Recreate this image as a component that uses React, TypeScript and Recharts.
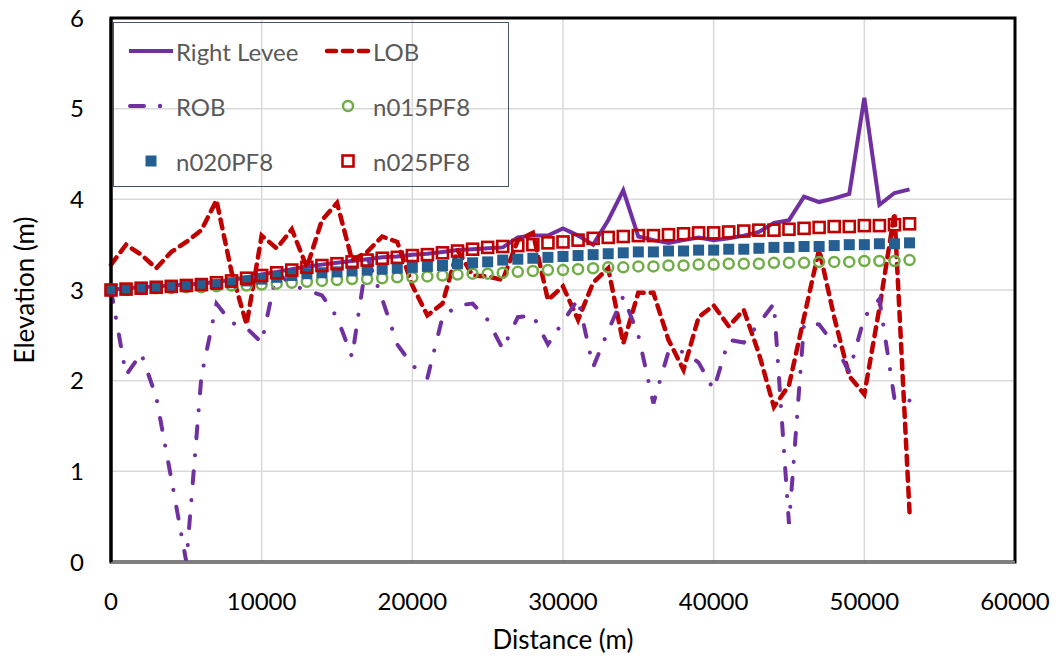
import React from "react";
import { LineChart, Line, XAxis, YAxis, CartesianGrid, ReferenceArea } from "recharts";

const distances = [
  0, 1000, 2000, 3000, 4000, 5000, 6000, 7000, 8000, 9000,
  10000, 11000, 12000, 13000, 14000, 15000, 16000, 17000, 18000, 19000,
  20000, 21000, 22000, 23000, 24000, 25000, 26000, 27000, 28000, 29000,
  30000, 31000, 32000, 33000, 34000, 35000, 36000, 37000, 38000, 39000,
  40000, 41000, 42000, 43000, 44000, 45000, 46000, 47000, 48000, 49000,
  50000, 51000, 52000, 53000,
];

const rightLevee = [
  3.0, 3.02, 3.03, 3.04, 3.05, 3.06, 3.07, 3.09, 3.11, 3.14,
  3.17, 3.2, 3.23, 3.26, 3.28, 3.3, 3.32, 3.34, 3.36, 3.37,
  3.39, 3.4, 3.42, 3.44, 3.45, 3.46, 3.47, 3.58, 3.6, 3.6,
  3.68, 3.6, 3.5, 3.77, 4.1, 3.59, 3.55, 3.52, 3.55, 3.58,
  3.55, 3.57, 3.6, 3.64, 3.74, 3.77, 4.03, 3.97, 4.01, 4.06,
  5.12, 3.94, 4.07, 4.11,
];

const lob = [
  3.28, 3.5, 3.39, 3.24, 3.42, 3.53, 3.66, 3.99, 3.2, 2.62,
  3.6, 3.46, 3.67, 3.25, 3.77, 3.96, 3.33, 3.42, 3.59, 3.53,
  3.05, 2.72, 2.85, 3.44, 3.16, 3.15, 3.11, 3.55, 3.63, 2.89,
  3.04, 2.67, 3.08, 3.24, 2.41, 2.97, 2.97, 2.45, 2.12, 2.7,
  2.83, 2.6, 2.78, 2.3, 1.71, 1.95, 2.7, 3.45, 2.7, 2.05,
  1.85, 2.8, 3.85, 0.55,
];

const rob = [
  3.0, 2.06, 2.3, 1.82, 0.92, 0.0, 2.05, 2.85, 2.64, 2.58,
  2.42, 3.2, 3.05, 3.0, 2.94, 2.7, 2.26, 3.37, 2.9, 2.4,
  2.17, 2.03, 2.7, 2.83, 2.85, 2.67, 2.35, 2.7, 2.72, 2.4,
  2.65, 2.9, 2.15, 2.55, 2.93, 2.5, 1.75, 2.32, 2.32, 2.2,
  1.9, 2.45, 2.42, 2.63, 2.85, 0.42, 2.63, 2.62, 2.4, 2.1,
  2.7, 2.9, 1.8, 1.78,
];

const n015PF8 = [
  3.0, 3.0, 3.01, 3.02, 3.02, 3.03, 3.03, 3.04, 3.05, 3.05,
  3.06, 3.07, 3.08, 3.09, 3.1, 3.11, 3.12, 3.12, 3.13, 3.14,
  3.14, 3.15, 3.16, 3.17, 3.18, 3.18, 3.19, 3.2, 3.21, 3.22,
  3.22, 3.23, 3.24, 3.25, 3.25, 3.26, 3.26, 3.27, 3.27, 3.28,
  3.28, 3.29, 3.29, 3.29, 3.3, 3.3, 3.3, 3.31, 3.31, 3.31,
  3.32, 3.32, 3.32, 3.33,
];

const n020PF8 = [
  3.0, 3.01, 3.02, 3.03, 3.04, 3.04, 3.05, 3.06, 3.08, 3.1,
  3.12, 3.14, 3.16, 3.18, 3.19, 3.2, 3.21, 3.22, 3.23, 3.24,
  3.25, 3.26, 3.27, 3.29, 3.3, 3.31, 3.33, 3.34, 3.35, 3.36,
  3.37, 3.38, 3.39, 3.4, 3.41, 3.42, 3.42, 3.43, 3.43, 3.44,
  3.44, 3.45, 3.45, 3.46, 3.47, 3.47, 3.48, 3.48, 3.49, 3.5,
  3.5, 3.51, 3.51, 3.52,
];

const n025PF8 = [
  3.0, 3.01, 3.02, 3.03, 3.04, 3.05, 3.06, 3.08, 3.1, 3.13,
  3.16, 3.19, 3.22, 3.25, 3.27, 3.29, 3.31, 3.33, 3.35, 3.36,
  3.38, 3.39, 3.41, 3.43, 3.45, 3.47, 3.48, 3.49, 3.5, 3.52,
  3.53, 3.55, 3.57, 3.58, 3.59, 3.6, 3.6, 3.61, 3.62, 3.63,
  3.63, 3.64, 3.65, 3.66, 3.66, 3.67, 3.68, 3.69, 3.7, 3.7,
  3.71, 3.71, 3.72, 3.73,
];

const xTicks = [0, 10000, 20000, 30000, 40000, 50000, 60000];
const yTicks = [0, 1, 2, 3, 4, 5, 6];

const PURPLE = "#7030A0";
const RED = "#C00000";
const GREEN = "#70AD47";
const BLUE = "#255E91";
const FONT = "Lato, 'Noto Sans', sans-serif";

const chartData = distances.map((distance, i) => ({
  distance,
  rightLevee: rightLevee[i],
  lob: lob[i],
  rob: rob[i],
  n015: n015PF8[i],
  n020: n020PF8[i],
  n025: n025PF8[i],
}));

function circleDot(props: any) {
  const { cx, cy, index } = props;
  if (cx == null || cy == null) return <g key={`c${index}`} />;
  return (
    <circle key={`c${index}`} cx={cx} cy={cy} r={5} fill="none" stroke={GREEN} strokeWidth={2.5} />
  );
}

function filledSquare(props: any) {
  const { cx, cy, index } = props;
  if (cx == null || cy == null) return <g key={`f${index}`} />;
  return <rect key={`f${index}`} x={cx - 5.5} y={cy - 5.5} width={11} height={11} fill={BLUE} />;
}

function hollowSquare(props: any) {
  const { cx, cy, index } = props;
  if (cx == null || cy == null) return <g key={`h${index}`} />;
  return (
    <rect
      key={`h${index}`}
      x={cx - 5.5}
      y={cy - 5.5}
      width={11}
      height={11}
      fill="none"
      stroke={RED}
      strokeWidth={2.6}
    />
  );
}

function LegendItem({ left, top, symbol, label }: { left: number; top: number; symbol: React.ReactNode; label: string }) {
  return (
    <div
      style={{
        position: "absolute",
        left,
        top: top - 15,
        height: 30,
        display: "flex",
        alignItems: "center",
        whiteSpace: "nowrap",
      }}
    >
      <svg width={48} height={30} style={{ display: "block" }}>
        {symbol}
      </svg>
      <span style={{ fontSize: 24, color: "#595959", marginLeft: 1, fontFamily: FONT }}>{label}</span>
    </div>
  );
}

function ChartLegend() {
  return (
    <div
      style={{
        position: "absolute",
        left: 113,
        top: 22,
        width: 394,
        height: 163,
        border: "1.5px solid #44546A",
      }}
    >
      <LegendItem
        left={13}
        top={28}
        label="Right Levee"
        symbol={<line x1={2} y1={15} x2={46} y2={15} stroke={PURPLE} strokeWidth={4} />}
      />
      <LegendItem
        left={210}
        top={28}
        label="LOB"
        symbol={
          <line x1={3} y1={15} x2={45} y2={15} stroke={RED} strokeWidth={4.5} strokeDasharray="9 7" strokeLinecap="round" />
        }
      />
      <LegendItem
        left={13}
        top={83}
        label="ROB"
        symbol={
          <g>
            <line x1={3} y1={15} x2={17} y2={15} stroke={PURPLE} strokeWidth={4} strokeLinecap="round" />
            <circle cx={33} cy={15} r={2.2} fill={PURPLE} />
          </g>
        }
      />
      <LegendItem
        left={210}
        top={83}
        label="n015PF8"
        symbol={<circle cx={24} cy={15} r={5} fill="none" stroke={GREEN} strokeWidth={2.5} />}
      />
      <LegendItem
        left={13}
        top={138}
        label="n020PF8"
        symbol={<rect x={18.5} y={9.5} width={11} height={11} fill={BLUE} />}
      />
      <LegendItem
        left={210}
        top={138}
        label="n025PF8"
        symbol={<rect x={18.5} y={9.5} width={11} height={11} fill="none" stroke={RED} strokeWidth={2.6} />}
      />
    </div>
  );
}

export default function App() {
  return (
    <div
      style={{
        position: "absolute",
        left: 0,
        top: 0,
        width: 1059,
        height: 661,
        background: "#fff",
        fontFamily: FONT,
      }}
    >
      <LineChart
        width={1059}
        height={661}
        data={chartData}
        margin={{ top: 18, right: 44, left: 0, bottom: 0 }}
        style={{ fontFamily: FONT }}
      >
        <CartesianGrid stroke="#D9D9D9" strokeWidth={1.5} />
        <XAxis
          dataKey="distance"
          type="number"
          domain={[0, 60000]}
          ticks={xTicks}
          interval={0}
          height={99}
          tickSize={0}
          tickMargin={31}
          tickLine={false}
          axisLine={{ stroke: "#7F7F7F", strokeWidth: 2.5 }}
          tick={{ fontSize: 24, fill: "#000", fontFamily: FONT }}
          label={{
            value: "Distance (m)",
            position: "insideBottom",
            offset: 12,
            style: { fontSize: 26, fill: "#000", fontFamily: FONT },
          }}
        />
        <YAxis
          type="number"
          domain={[0, 6]}
          ticks={yTicks}
          interval={0}
          width={111}
          tickSize={0}
          tickMargin={27}
          tickLine={false}
          axisLine={{ stroke: "#000", strokeWidth: 3 }}
          tick={{ fontSize: 24, fill: "#000", fontFamily: FONT }}
          label={{
            value: "Elevation (m)",
            angle: -90,
            position: "insideLeft",
            offset: 25,
            style: { fontSize: 26, fill: "#000", fontFamily: FONT, textAnchor: "middle" },
          }}
        />
        <ReferenceArea x1={0} x2={60000} y1={0} y2={6} fill="none" stroke="#000" strokeWidth={3} ifOverflow="visible" />
        <Line
          dataKey="rightLevee"
          type="linear"
          stroke={PURPLE}
          strokeWidth={4}
          dot={false}
          activeDot={false}
          isAnimationActive={false}
        />
        <Line
          dataKey="lob"
          type="linear"
          stroke={RED}
          strokeWidth={4.5}
          strokeDasharray="9 7"
          strokeLinecap="round"
          dot={false}
          activeDot={false}
          isAnimationActive={false}
        />
        <Line
          dataKey="rob"
          type="linear"
          stroke={PURPLE}
          strokeWidth={4}
          strokeDasharray="12 16 0.1 17"
          strokeLinecap="round"
          dot={false}
          activeDot={false}
          isAnimationActive={false}
        />
        <Line
          dataKey="n015"
          type="linear"
          stroke="none"
          dot={circleDot}
          activeDot={false}
          isAnimationActive={false}
        />
        <Line
          dataKey="n020"
          type="linear"
          stroke="none"
          dot={filledSquare}
          activeDot={false}
          isAnimationActive={false}
        />
        <Line
          dataKey="n025"
          type="linear"
          stroke="none"
          dot={hollowSquare}
          activeDot={false}
          isAnimationActive={false}
        />
      </LineChart>
      <ChartLegend />
    </div>
  );
}
